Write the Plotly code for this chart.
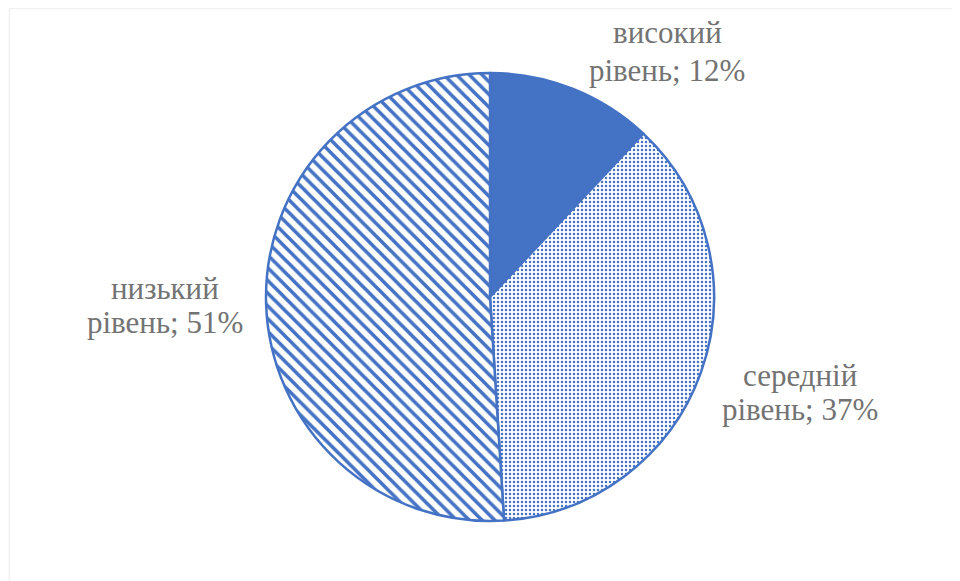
import plotly.graph_objects as go

categories = ["високий рівень", "середній рівень", "низький рівень"]
values = [12, 37, 51]

W, H = 960, 581
OFF = 8  # page body margin offset
BLUE = "#4472C4"
TEXT = "#737373"
FONT = "Times New Roman, Liberation Serif, serif"

# label line centres in screen pixels (layout only): x, y line1, y line2
label_pos = [(667, 32, 70), (800, 375, 409), (165, 288, 322)]


def px_x(x):
    return (x - OFF) / W


def px_y(y):
    return 1 - (y - OFF) / H


fig = go.Figure()
fig.add_trace(go.Pie(
    labels=categories,
    values=values,
    sort=False,
    direction="clockwise",
    rotation=0,
    textinfo="none",
    hoverinfo="label+percent",
    showlegend=False,
    marker=dict(
        colors=[BLUE, "white", "white"],
        line=dict(color=BLUE, width=2.5),
        pattern=dict(
            shape=["", ".", "\\"],
            fgcolor=BLUE,
            bgcolor="white",
            size=[8, 4, 9],
            solidity=[0.3, 0.3, 0.4],
            fillmode="replace",
        ),
    ),
    domain=dict(x=[px_x(266), px_x(714)], y=[px_y(521), px_y(73)]),
))

total = sum(values)
for cat, v, (px, py1, py2) in zip(categories, values, label_pos):
    first, second = cat.split(" ", 1)
    for txt, py in ((first, py1), (f"{second}; {round(100 * v / total)}%", py2)):
        fig.add_annotation(
            x=px_x(px), y=px_y(py), xref="paper", yref="paper",
            text=txt,
            showarrow=False, xanchor="center", yanchor="middle",
            font=dict(family=FONT, size=31, color=TEXT),
        )

fig.add_shape(type="rect", xref="paper", yref="paper",
              x0=px_x(9.5), x1=px_x(954), y0=-0.05, y1=px_y(8.5),
              line=dict(color="#F0F0F0", width=1.5), fillcolor="rgba(0,0,0,0)")

fig.update_layout(
    width=W, height=H,
    margin=dict(l=0, r=0, t=0, b=0),
    paper_bgcolor="white",
    plot_bgcolor="white",
)

fig.write_html("out.html")
